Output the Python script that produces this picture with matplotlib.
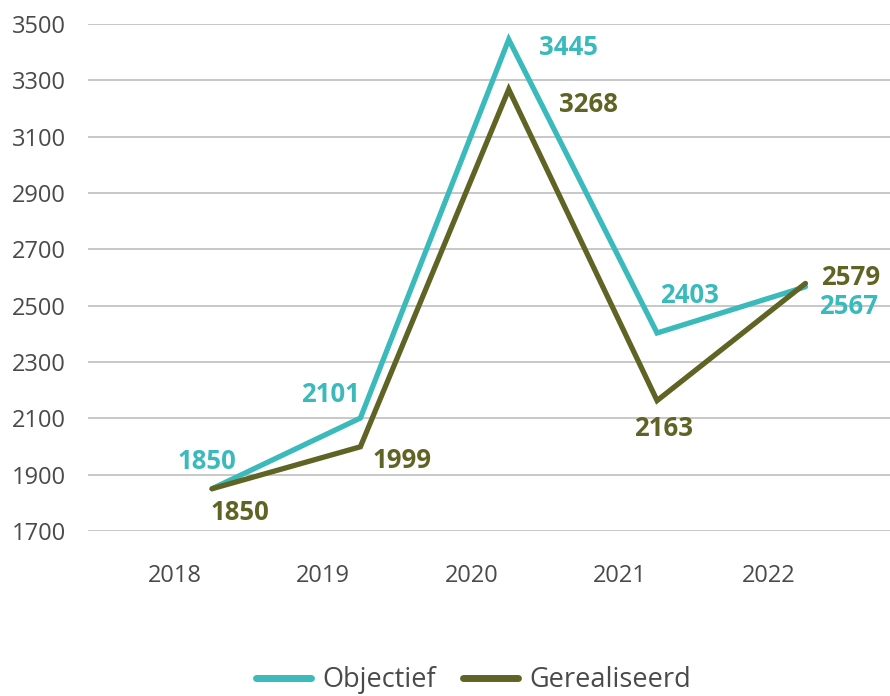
import matplotlib
matplotlib.use("Agg")
import matplotlib.pyplot as plt
from matplotlib.lines import Line2D

years = ["2018", "2019", "2020", "2021", "2022"]
objectief = [1850, 2101, 3445, 2403, 2567]
gerealiseerd = [1850, 1999, 3268, 2163, 2579]
yticks = [1700, 1900, 2100, 2300, 2500, 2700, 2900, 3100, 3300, 3500]

c_obj = "#3bbabc"
c_ger = "#5f6424"
txt = "#4a4a4a"

# label offsets in pixels (style only)
off_obj = [(-5, 27), (-30, 24), (60, -8), (32, 37), (43, -20)]
off_ger = [(28, -24), (42, -14), (80, -15), (6, -28), (45, 6)]

plt.rcParams['font.family'] = ['Open Sans', 'DejaVu Sans']

fig = plt.figure(figsize=(8.9, 6.96), dpi=100)
ax = fig.add_axes([88/890, 1-531/696, 1-88/890, (531-24)/696])

x = list(range(len(years)))
ax.plot(x, objectief, color=c_obj, lw=3.8, solid_joinstyle='miter', solid_capstyle='round', zorder=3)
ax.plot(x, gerealiseerd, color=c_ger, lw=3.8, solid_joinstyle='miter', solid_capstyle='round', zorder=4)

for i, v in enumerate(objectief):
    ax.annotate(str(v), (x[i], v), xytext=off_obj[i], textcoords='offset pixels',
                ha='center', va='center', color=c_obj, fontsize=18.5, fontweight='bold')
for i, v in enumerate(gerealiseerd):
    ax.annotate(str(v), (x[i], v), xytext=off_ger[i], textcoords='offset pixels',
                ha='center', va='center', color=c_ger, fontsize=18.5, fontweight='bold')

ax.set_ylim(1700, 3500)
ax.set_yticks(yticks)
ax.set_yticklabels([str(t) for t in yticks], color=txt, fontsize=17)
ax.set_xlim(-0.836, 4.57)
ax.set_xticks([i - 0.25 for i in x])
ax.set_xticklabels(years, color=txt, fontsize=17)
ax.tick_params(axis='both', length=0)
ax.tick_params(axis='x', pad=24)
ax.tick_params(axis='y', pad=16)
ax.grid(axis='y', color='#c4c4c4', lw=1.3)
ax.set_axisbelow(True)
for s in ax.spines.values():
    s.set_visible(False)

handles = [Line2D([0], [0], color=c_obj, lw=5, solid_capstyle='round'),
           Line2D([0], [0], color=c_ger, lw=5, solid_capstyle='round')]
fig.legend(handles, ["Objectief", "Gerealiseerd"], loc='center', bbox_to_anchor=(474/890, 1-680/696),
           ncol=2, frameon=False, fontsize=19.5, handlelength=2.0, handletextpad=0.45,
           columnspacing=1.0, labelcolor=txt)

fig.savefig("out.png", dpi=100)
